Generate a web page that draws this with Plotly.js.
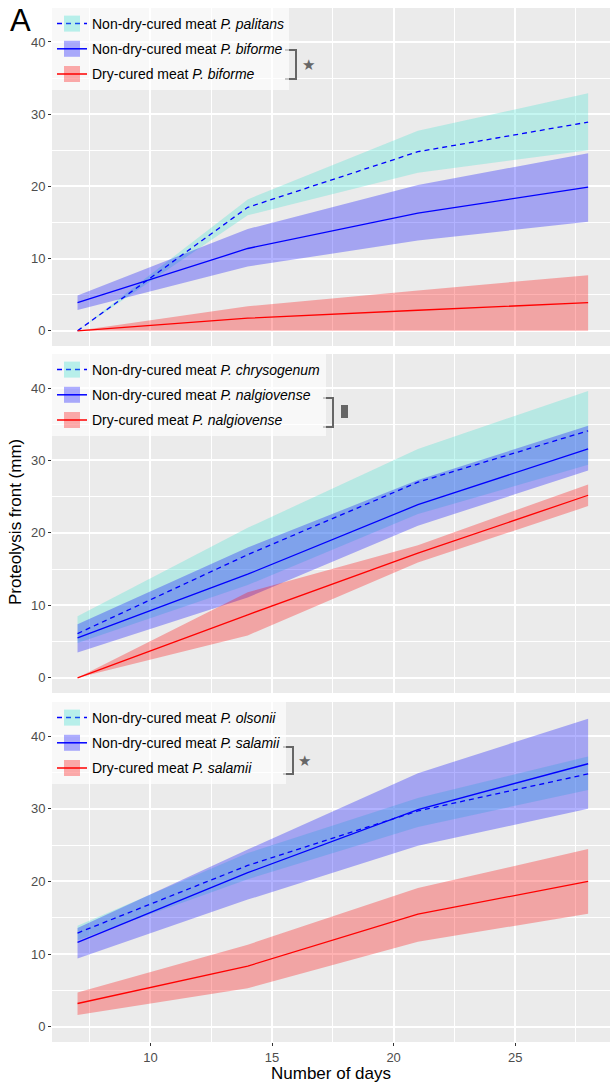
<!DOCTYPE html>
<html>
<head>
<meta charset="utf-8">
<script src="https://cdn.plot.ly/plotly-3.0.1.min.js"></script>
<style>html,body{margin:0;padding:0;background:#fff;}#chart{width:610px;height:1086px;}</style>
</head>
<body>
<div id="chart"></div>
<script>
// ---------- data ----------
const days = [7, 14, 21, 28];
const xTickVals = [10, 15, 20, 25];
const xMinorVals = [7.5, 12.5, 17.5, 22.5, 27.5];
const yTickVals = [0, 10, 20, 30, 40];
const yMinorVals = [5, 15, 25, 35];

// Panel 1
const palitansMean = [0, 17.1, 24.8, 28.9];
const palitansLow  = [0, 16.0, 21.9, 25.0];
const palitansHigh = [0, 18.2, 27.7, 32.9];
const biformeNdMean = [3.9, 11.4, 16.3, 19.9];
const biformeNdLow  = [2.9, 8.9, 12.5, 15.1];
const biformeNdHigh = [4.9, 14.1, 20.2, 24.6];
const biformeDcMean = [0, 1.75, 2.85, 3.9];
const biformeDcLow  = [0, 0, 0, 0];
const biformeDcHigh = [0, 3.4, 5.6, 7.7];

// Panel 2
const chrysoMean = [6.1, 17.0, 27.0, 34.1];
const chrysoLow  = [4.8, 12.8, 22.6, 29.4];
const chrysoHigh = [8.5, 20.7, 31.6, 39.6];
const nalgNdMean = [5.5, 14.3, 23.9, 31.6];
const nalgNdLow  = [3.5, 11.1, 21.0, 28.6];
const nalgNdHigh = [7.4, 18.0, 27.3, 34.8];
const nalgDcMean = [0, 8.7, 17.2, 25.2];
const nalgDcLow  = [0, 5.85, 15.9, 23.7];
const nalgDcHigh = [0, 11.8, 18.3, 26.7];

// Panel 3
const olsoniiMean = [12.9, 22.2, 29.7, 34.8];
const olsoniiLow  = [11.9, 20.3, 27.5, 32.6];
const olsoniiHigh = [13.9, 23.9, 31.5, 37.2];
const salamiiNdMean = [11.6, 21.2, 29.9, 36.2];
const salamiiNdLow  = [9.4, 17.5, 24.9, 30.0];
const salamiiNdHigh = [13.6, 24.4, 34.9, 42.4];
const salamiiDcMean = [3.2, 8.35, 15.5, 20.0];
const salamiiDcLow  = [1.6, 5.3, 11.7, 15.55];
const salamiiDcHigh = [4.7, 11.3, 19.1, 24.45];

const panels = [
  {xaxis: 'x', yaxis: 'y', legend: 'legend', series: [
    {name: 'Non-dry-cured meat <i>P. palitans</i>', kind: 'c', mean: palitansMean, low: palitansLow, high: palitansHigh},
    {name: 'Non-dry-cured meat <i>P. biforme</i>', kind: 'b', mean: biformeNdMean, low: biformeNdLow, high: biformeNdHigh},
    {name: 'Dry-cured meat <i>P. biforme</i>', kind: 'r', mean: biformeDcMean, low: biformeDcLow, high: biformeDcHigh}]},
  {xaxis: 'x2', yaxis: 'y2', legend: 'legend2', series: [
    {name: 'Non-dry-cured meat <i>P. chrysogenum</i>', kind: 'c', mean: chrysoMean, low: chrysoLow, high: chrysoHigh},
    {name: 'Non-dry-cured meat <i>P. nalgiovense</i>', kind: 'b', mean: nalgNdMean, low: nalgNdLow, high: nalgNdHigh},
    {name: 'Dry-cured meat <i>P. nalgiovense</i>', kind: 'r', mean: nalgDcMean, low: nalgDcLow, high: nalgDcHigh}]},
  {xaxis: 'x3', yaxis: 'y3', legend: 'legend3', series: [
    {name: 'Non-dry-cured meat <i>P. olsonii</i>', kind: 'c', mean: olsoniiMean, low: olsoniiLow, high: olsoniiHigh},
    {name: 'Non-dry-cured meat <i>P. salamii</i>', kind: 'b', mean: salamiiNdMean, low: salamiiNdLow, high: salamiiNdHigh},
    {name: 'Dry-cured meat <i>P. salamii</i>', kind: 'r', mean: salamiiDcMean, low: salamiiDcLow, high: salamiiDcHigh}]}
];

// ---------- styles ----------
const style = {
  c: {fill: 'rgba(64,224,208,0.30)', key: 'rgba(64,224,208,0.35)', line: '#0000FF', dash: '5px,4px'},
  b: {fill: 'rgba(0,0,255,0.30)', key: 'rgba(0,0,255,0.32)', line: '#0000FF', dash: 'solid'},
  r: {fill: 'rgba(255,0,0,0.30)', key: 'rgba(255,0,0,0.32)', line: '#FF0000', dash: 'solid'}
};

const traces = [];
panels.forEach((p, pi) => {
  p.series.forEach(s => {
    traces.push({
      type: 'scatter', mode: 'lines', xaxis: p.xaxis, yaxis: p.yaxis,
      x: days.concat(days.slice().reverse()),
      y: s.high.concat(s.low.slice().reverse()),
      fill: 'toself', fillcolor: style[s.kind].fill,
      line: {width: 0}, showlegend: false, hoverinfo: 'skip'
    });
  });
  p.series.forEach(s => {
    traces.push({
      type: 'scatter', mode: 'lines', xaxis: p.xaxis, yaxis: p.yaxis,
      x: days, y: s.mean, name: s.name,
      line: {color: style[s.kind].line, width: 1.3, dash: style[s.kind].dash},
      showlegend: false
    });
  });
  // legend entries
  p.series.forEach((s, si) => {
    traces.push({
      type: 'scatter', mode: 'lines+markers', xaxis: p.xaxis, yaxis: p.yaxis,
      x: [null], y: [null], name: s.name, legend: p.legend,
      legendgroup: 'g' + pi + '_' + si,
      marker: {symbol: 'square', size: 16, color: style[s.kind].key, line: {width: 0}},
      line: {color: style[s.kind].line, width: 1.5, dash: style[s.kind].dash},
      showlegend: true
    });
  });
});

// ---------- layout ----------
const FONT = 'Liberation Sans, Arial, sans-serif';
const H = 1086, T = 8, B = 44, L = 52;
const plotH = H - T - B;           // 1034
const py = v => (H - B - v) / plotH; // pixel y -> paper
const px = v => (v - L) / (610 - L);

const yBase = {
  range: [-2.1, 44.7], tickmode: 'array', tickvals: yTickVals,
  showgrid: true, gridcolor: '#FFFFFF', gridwidth: 2,
  minor: {tickmode: 'array', tickvals: yMinorVals, showgrid: true, gridcolor: '#FFFFFF', gridwidth: 1},
  zeroline: false, ticks: 'outside', ticklen: 3, tickcolor: '#333333', tickwidth: 1,
  tickfont: {family: FONT, size: 13, color: '#4D4D4D'},
  fixedrange: true, showline: false
};
const xBase = {
  range: [5.95, 28.9], tickmode: 'array', tickvals: xTickVals, domain: [0, 1],
  showgrid: true, gridcolor: '#FFFFFF', gridwidth: 2,
  minor: {tickmode: 'array', tickvals: xMinorVals, showgrid: true, gridcolor: '#FFFFFF', gridwidth: 1},
  zeroline: false, fixedrange: true, showline: false,
  tickfont: {family: FONT, size: 13, color: '#4D4D4D'}
};

const legendBase = {
  x: 0, xanchor: 'left', yanchor: 'top',
  bgcolor: 'rgba(255,255,255,0.65)', borderwidth: 0,
  font: {family: FONT, size: 14, color: '#000000'},
  tracegroupgap: 4, itemwidth: 30, traceorder: 'grouped'
};

const bracket = (x1, x2, y1, y2) => ({
  type: 'path', xref: 'paper', yref: 'paper',
  path: `M ${px(x1)},${py(y1)} L ${px(x2)},${py(y1)} L ${px(x2)},${py(y2)} L ${px(x1)},${py(y2)}`,
  line: {color: '#666666', width: 2}
});

const layout = {
  width: 610, height: H,
  margin: {l: L, r: 0, t: T, b: B, pad: 0},
  paper_bgcolor: '#FFFFFF', plot_bgcolor: '#EBEBEB',
  showlegend: true,
  xaxis: Object.assign({}, xBase, {anchor: 'y', showticklabels: false, ticks: ''}),
  xaxis2: Object.assign({}, xBase, {anchor: 'y2', showticklabels: false, ticks: ''}),
  xaxis3: Object.assign({}, xBase, {anchor: 'y3', ticks: 'outside', ticklen: 3, tickcolor: '#333333', tickwidth: 1}),
  yaxis: Object.assign({}, yBase, {anchor: 'x', domain: [py(346), 1]}),
  yaxis2: Object.assign({}, yBase, {anchor: 'x2', domain: [py(693), py(354)]}),
  yaxis3: Object.assign({}, yBase, {anchor: 'x3', domain: [0, py(702)]}),
  legend: Object.assign({}, legendBase, {y: 1}),
  legend2: Object.assign({}, legendBase, {y: py(354)}),
  legend3: Object.assign({}, legendBase, {y: py(702)}),
  shapes: [
    bracket(285, 296, 50, 79),
    bracket(323, 333, 398, 427),
    bracket(283, 293, 747, 774),
    {type: 'rect', xref: 'paper', yref: 'paper', x0: px(341), x1: px(348), y0: py(418), y1: py(405),
     fillcolor: '#666666', line: {width: 0}}
  ],
  annotations: [
    {text: '★', xref: 'paper', yref: 'paper', x: px(308), y: py(65), xanchor: 'center', yanchor: 'middle',
     showarrow: false, font: {family: 'DejaVu Sans', size: 15, color: '#666666'}},
    {text: '★', xref: 'paper', yref: 'paper', x: px(304), y: py(761), xanchor: 'center', yanchor: 'middle',
     showarrow: false, font: {family: 'DejaVu Sans', size: 15, color: '#666666'}},
    {text: 'A', xref: 'paper', yref: 'paper', x: px(20), y: py(20), xanchor: 'center', yanchor: 'middle',
     showarrow: false, font: {family: FONT, size: 31, color: '#000000'}},
    {text: 'Proteolysis front (mm)', xref: 'paper', yref: 'paper', x: px(15), y: py(522), textangle: -90,
     xanchor: 'center', yanchor: 'middle', showarrow: false, font: {family: FONT, size: 17, color: '#000000'}},
    {text: 'Number of days', xref: 'paper', yref: 'paper', x: 0.5, y: py(1073), xanchor: 'center', yanchor: 'middle',
     showarrow: false, font: {family: FONT, size: 17, color: '#000000'}}
  ]
};

Plotly.newPlot('chart', traces, layout, {staticPlot: true, displayModeBar: false});
</script>
</body>
</html>
